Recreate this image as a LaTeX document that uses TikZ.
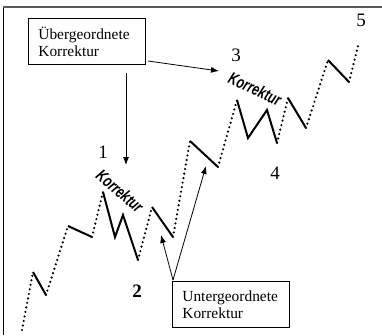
\documentclass[tikz,border=0pt]{standalone}
\usepackage{fontspec}
\setmainfont{Liberation Serif}
\newfontfamily\korrfont{Liberation Sans}
\usetikzlibrary{arrows.meta}
\begin{document}
\begin{tikzpicture}[x=1pt,y=-1pt,
  dots/.style={line width=2.4pt, dash pattern=on 0pt off 4.6pt, line cap=round},
  wave/.style={line width=2pt, line join=miter},
  arr/.style={line width=0.8pt, -{Latex[length=8pt,width=6pt]}},
  labelbox/.style={draw, line width=0.8pt, anchor=north west, minimum width=117pt, minimum height=46pt,
    text width=97pt, inner xsep=10pt, inner ysep=0pt, align=left,
    font=\fontsize{15.4}{17}\selectfont},
  num/.style={font=\fontsize{19}{19}\selectfont, inner sep=0pt},
  korr/.style={font=\korrfont\bfseries\itshape\fontsize{17}{17}\selectfont, inner sep=0pt}]
\useasboundingbox (0,0) rectangle (382,335);
\draw[line width=1pt] (3,335) -- (3,7);
\draw[line width=1.6pt, black!65] (3,7) -- (382,7);
% wave points
\coordinate (p0) at (22,330);
\coordinate (p1) at (33,272);
\coordinate (p2) at (46,295);
\coordinate (p3) at (68,226);
\coordinate (p4) at (92,237);
\coordinate (p5) at (103,192);
\coordinate (p6) at (115,237);
\coordinate (p7) at (123,215);
\coordinate (p8) at (138,260);
\coordinate (p9) at (152,207);
\coordinate (p10) at (173,237);
\coordinate (p11) at (190,141);
\coordinate (p12) at (218,167);
\coordinate (p13) at (237,100);
\coordinate (p14) at (248,138);
\coordinate (p15) at (267,110);
\coordinate (p16) at (277,143);
\coordinate (p17) at (288,98);
\coordinate (p18) at (306,128);
\coordinate (p19) at (328,60);
\coordinate (p20) at (349,82);
\coordinate (p21) at (359,42);
% dotted impulse legs
\draw[dots] (p0) -- (p1);
\draw[dots] (p2) -- (p3);
\draw[dots] (p4) -- (p5);
\draw[dots] (p8) -- (p9);
\draw[dots] (p10) -- (p11);
\draw[dots] (p12) -- (p13);
\draw[dots] (p16) -- (p17);
\draw[dots] (p18) -- (p19);
\draw[dots] (p20) -- (p21);
% solid corrections
\draw[wave] (p1) -- (p2);
\draw[wave] (p3) -- (p4);
\draw[wave] (p5) -- (p6) -- (p7) -- (p8);
\draw[wave] (p9) -- (p10);
\draw[wave] (p11) -- (p12);
\draw[wave] (p13) -- (p14) -- (p15) -- (p16);
\draw[wave] (p17) -- (p18);
\draw[wave] (p19) -- (p20);
% labels
\node[korr, rotate=-41] (k1) at (120,191) {\scalebox{0.72}[1]{Korrektur}};
\node[korr, rotate=-24.5] (k2) at (255,89) {\scalebox{0.72}[1]{Korrektur}};
\node[num] (n1) at (103,152) {1};
\node[num] (n2) at (137,291) {\textbf{2}};
\node[num] (n3) at (236,55) {3};
\node[num] (n4) at (275,173) {4};
\node[num] (n5) at (361,20) {5};
% boxes
\node[labelbox] (ub) at (28,18) {Übergeordnete\\Korrektur};
\node[labelbox] (ug) at (172,281) {Untergeordnete\\Korrektur};
% arrows
\coordinate (ubs) at (148,61);
\coordinate (ubd) at (126,73);
\coordinate (t3) at (219,71);
\coordinate (t1) at (126,165);
\coordinate (ugs) at (173,280);
\coordinate (t2) at (161,235);
\coordinate (t4) at (206,166);
\draw[arr] (ubs) -- (t3);
\draw[arr] (ubd) -- (t1);
\draw[arr] (ugs) -- (t2);
\draw[arr] (ugs) -- (t4);
\end{tikzpicture}
\end{document}
